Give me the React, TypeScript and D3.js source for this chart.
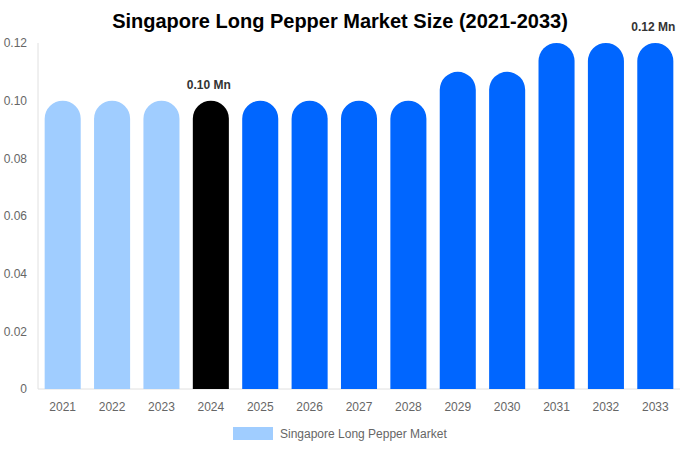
import * as d3 from "d3";

const years = ["2021", "2022", "2023", "2024", "2025", "2026", "2027", "2028", "2029", "2030", "2031", "2032", "2033"];
const values = [0.1, 0.1, 0.1, 0.1, 0.1, 0.1, 0.1, 0.1, 0.11, 0.11, 0.12, 0.12, 0.12];
const barColors = ["#a0cdff", "#a0cdff", "#a0cdff", "#000000", "#0066ff", "#0066ff", "#0066ff", "#0066ff", "#0066ff", "#0066ff", "#0066ff", "#0066ff", "#0066ff"];
const yTicks = [0, 0.02, 0.04, 0.06, 0.08, 0.1, 0.12];
const annotations = [
  { year: "2024", text: "0.10 Mn" },
  { year: "2033", text: "0.12 Mn" },
];

const width = 680;
const height = 450;
const marginLeft = 38;
const marginRight = 0;
const marginTop = 43;
const marginBottom = 61;
const font = "'Liberation Sans', Arial, Helvetica, sans-serif";

export default function App() {
  const x = d3.scaleBand(years, [marginLeft, width - marginRight]).paddingInner(0.27).paddingOuter(0.135);
  const y = d3.scaleLinear([0, 0.12], [height - marginBottom, marginTop]);
  const bw = x.bandwidth();
  const r = bw / 2;

  const barPath = (xs: number, top: number, bottom: number) => {
    const p = d3.path();
    p.moveTo(xs, bottom);
    p.lineTo(xs, top + r);
    p.arc(xs + r, top + r, r, Math.PI, 0);
    p.lineTo(xs + bw, bottom);
    p.closePath();
    return p.toString();
  };

  return (
    <svg width={width} height={height} style={{ position: "absolute", left: 0, top: 0, fontFamily: font }}>
      <text x={340} y={28} textAnchor="middle" fontSize={20} fontWeight="bold" fill="#000">
        Singapore Long Pepper Market Size (2021-2033)
      </text>
      <line x1={marginLeft} x2={marginLeft} y1={marginTop} y2={height - marginBottom} stroke="#e0e0e0" />
      <line x1={marginLeft} x2={width - marginRight} y1={height - marginBottom} y2={height - marginBottom} stroke="#e0e0e0" />
      {yTicks.map((t) => (
        <text key={t} x={27} y={y(t)} dy="0.35em" textAnchor="end" fontSize={12} fill="#666">
          {t === 0 ? "0" : d3.format(".2f")(t)}
        </text>
      ))}
      {years.map((yr, i) => (
        <g key={yr}>
          <path d={barPath(x(yr)!, y(values[i]), y(0))} fill={barColors[i]} />
          <text x={x(yr)! + r} y={height - marginBottom + 22} textAnchor="middle" fontSize={12} fill="#666">
            {yr}
          </text>
        </g>
      ))}
      {annotations.map((a) => {
        const i = years.indexOf(a.year);
        return (
          <text key={a.year} x={x(a.year)! + r - 2} y={y(values[i]) - 12} textAnchor="middle" fontSize={12} fontWeight="bold" fill="#333">
            {a.text}
          </text>
        );
      })}
      <rect x={233} y={427} width={40} height={13} fill="#a0cdff" />
      <text x={280} y={433.5} dy="0.35em" fontSize={12} fill="#666">
        Singapore Long Pepper Market
      </text>
    </svg>
  );
}
